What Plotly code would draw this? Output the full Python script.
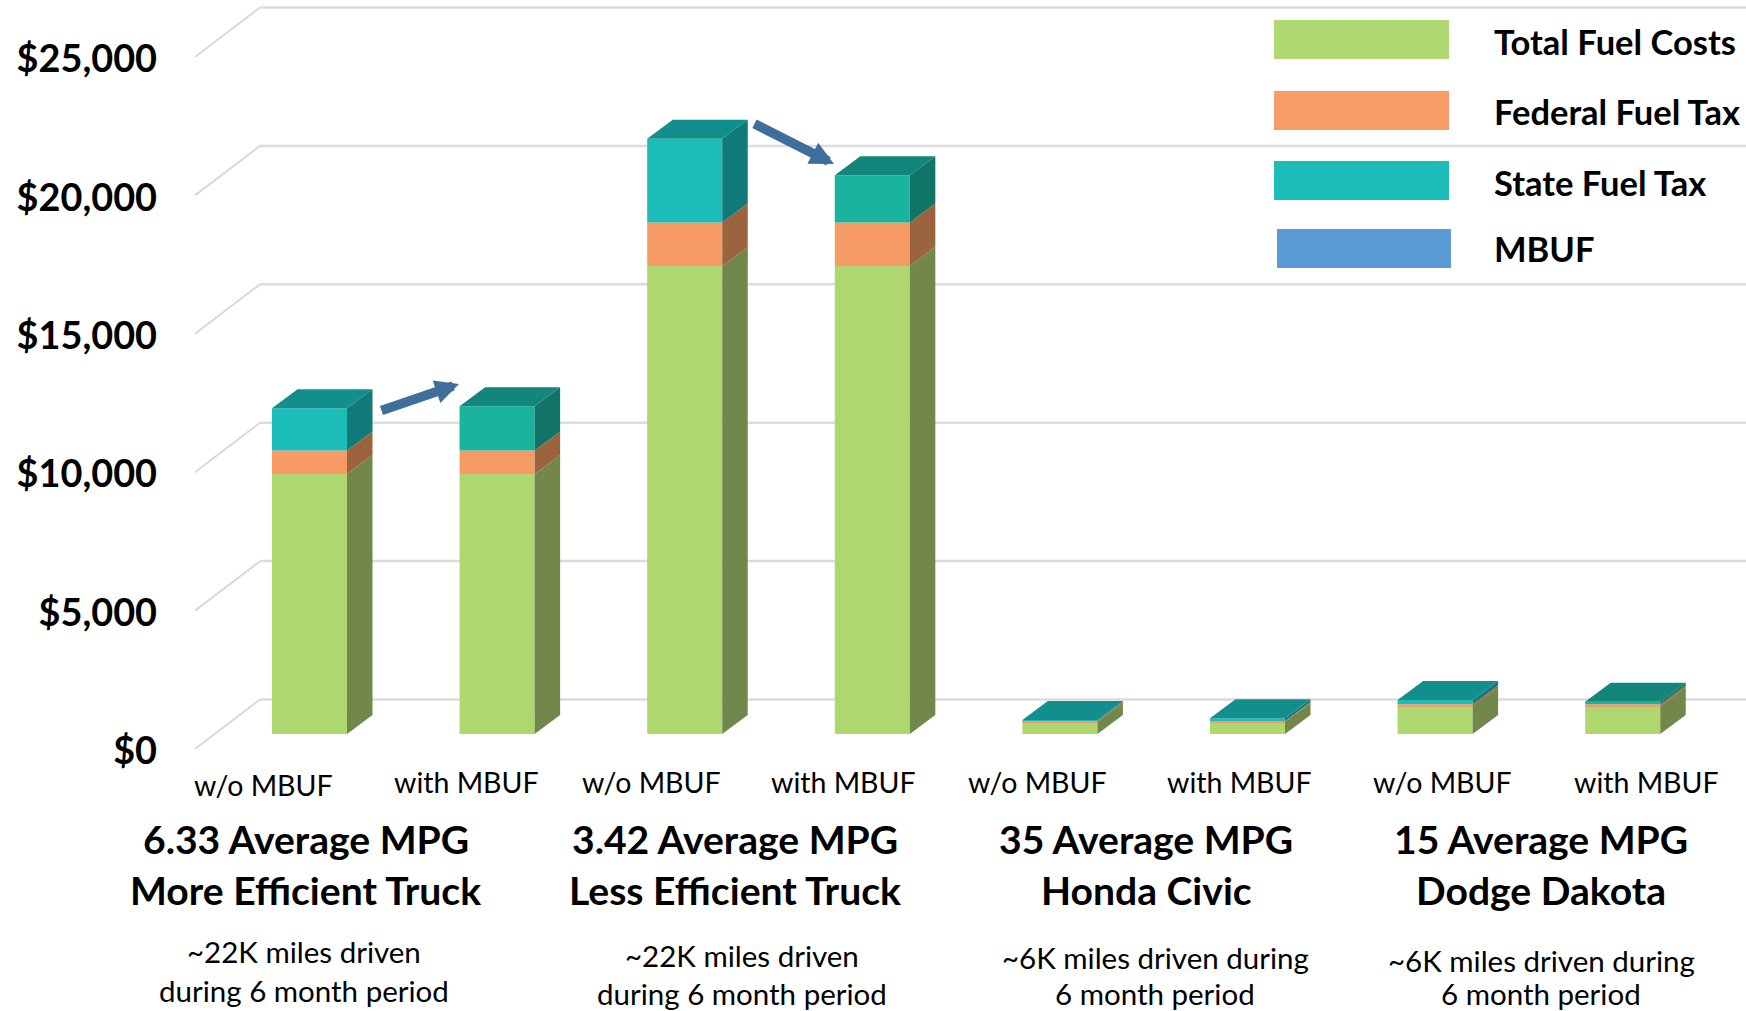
import plotly.graph_objects as go

# ---- data ----
bar_labels = ["w/o MBUF", "with MBUF"] * 4
fuel_costs = [9390, 9390, 16905, 16905, 433, 433, 1000, 1000]
federal_tax = [850, 850, 1570, 1570, 37, 37, 72, 72]
state_tax = [1530, 1600, 3030, 1715, 35, 97, 156, 94]
tick_values = [0, 5000, 10000, 15000, 20000, 25000]
tick_text = ["$0", "$5,000", "$10,000", "$15,000", "$20,000", "$25,000"]

legend_names = ["Total Fuel Costs", "Federal Fuel Tax", "State Fuel Tax", "MBUF"]
group_titles = [("6.33 Average MPG", "More Efficient Truck"), ("3.42 Average MPG", "Less Efficient Truck"),
                ("35 Average MPG", "Honda Civic"), ("15 Average MPG", "Dodge Dakota")]
group_notes = [("~22K miles driven", "during 6 month period"), ("~22K miles driven", "during 6 month period"),
               ("~6K miles driven during", "6 month period"), ("~6K miles driven during", "6 month period")]

# ---- styles / layout ----
W, H = 1746, 1011
X0, DX = 309.5, 187.6          # px centre of first bar, px per category
Y0, PX_PER_USD = 749.0, 138.4 / 5000
BAR_W = 0.4
FLOOR = 15 / PX_PER_USD        # bars stand 15px above the front floor edge
DEPTH_X, DEPTH_Y = 25.5 / DX, 19 / PX_PER_USD
WALL_X0, WALL_X1 = 195, 260
WALL_DY = 49.5 / PX_PER_USD

C_GREEN = ("#AFD770", "#72884A", "#72884A")
C_ORANGE = ("#F69B65", "#9C643E", "#9C643E")
C_TEAL = ("#1CBCB9", "#107A78", "#128F8D")
C_TEAL_M = ("#1AB39D", "#107467", "#12867A")
LEGEND_COLORS = ["#B0D870", "#F79C66", "#1CBCB9", "#5B9BD5"]
FONT = "Lato"


def xd(px):
    return (px - X0) / DX


def yd(py):
    return (Y0 - py) / PX_PER_USD


x_range = [xd(0), xd(W)]
y_range = [yd(H), yd(0)]
xs = list(range(len(fuel_costs)))

fig = go.Figure()

# wall gridlines, drawn below the bars
shapes = []
for v in tick_values:
    shapes.append(dict(type="line", xref="x", yref="y", layer="below", x0=xd(WALL_X0), x1=xd(WALL_X1),
                       y0=v, y1=v + WALL_DY, line=dict(color="#D9D9D9", width=2)))
    shapes.append(dict(type="line", xref="x", yref="y", layer="below", x0=xd(WALL_X1), x1=xd(W),
                       y0=v + WALL_DY, y1=v + WALL_DY, line=dict(color="#DCDCDC", width=2.5)))

# front faces
bottoms = [FLOOR] * len(xs)
segments = [
    ("Total Fuel Costs", fuel_costs, [C_GREEN] * 8),
    ("Federal Fuel Tax", federal_tax, [C_ORANGE] * 8),
    ("State Fuel Tax", state_tax, [C_TEAL, C_TEAL_M] * 2 + [C_TEAL, C_TEAL] + [C_TEAL, C_TEAL_M]),
]
for name, vals, cols in segments:
    fig.add_trace(go.Bar(x=xs, y=vals, base=bottoms, width=BAR_W, name=name, showlegend=False,
                         marker=dict(color=[c[0] for c in cols], line=dict(width=0))))
    # side faces
    for x, v, b, c in zip(xs, vals, bottoms, cols):
        xr = x + BAR_W / 2
        fig.add_trace(go.Scatter(x=[xr, xr + DEPTH_X, xr + DEPTH_X, xr, xr],
                                 y=[b, b + DEPTH_Y, b + v + DEPTH_Y, b + v, b],
                                 mode="lines", fill="toself", fillcolor=c[1], line=dict(width=0),
                                 showlegend=False, hoverinfo="skip"))
    bottoms = [b + v for b, v in zip(bottoms, vals)]

# top faces
for x, t, c in zip(xs, bottoms, segments[-1][2]):
    xl, xr = x - BAR_W / 2, x + BAR_W / 2
    fig.add_trace(go.Scatter(x=[xl, xr, xr + DEPTH_X, xl + DEPTH_X, xl],
                             y=[t, t, t + DEPTH_Y, t + DEPTH_Y, t],
                             mode="lines", fill="toself", fillcolor=c[2], line=dict(width=0),
                             showlegend=False, hoverinfo="skip"))

# legend swatches
swatch_boxes = [(1274, 1449, 20, 59), (1274, 1449, 91, 130), (1274, 1449, 161, 200), (1277, 1451, 229, 268)]
for (a, b, t, u), col in zip(swatch_boxes, LEGEND_COLORS):
    shapes.append(dict(type="rect", xref="paper", yref="paper", x0=a / W, x1=b / W, y0=1 - t / H, y1=1 - u / H,
                       fillcolor=col, line=dict(width=0), layer="above"))

annotations = []


def text(s, px, py, size, bold=False, anchor="center"):
    annotations.append(dict(text=f"<b>{s}</b>" if bold else s, xref="paper", yref="paper",
                            x=px / W, y=1 - py / H, xanchor=anchor, yanchor="middle", showarrow=False,
                            font=dict(family=FONT, size=size, color="#000000")))


legend_y = [42, 111, 182, 249]
for n, py in zip(legend_names, legend_y):
    text(n, 1492, py, 34.5, bold=True, anchor="left")

label_pos = [(263, 785), (466, 782), (651, 782), (843, 782), (1037, 782), (1239, 782), (1442, 782), (1646, 782)]
for s, (px, py) in zip(bar_labels, label_pos):
    text(s, px, py, 28.5)

title_pos = [(305.5, 838, 889), (734.5, 838, 889), (1146, 838, 889), (1541, 838, 889.5)]
for (a, b), (px, p1, p2) in zip(group_titles, title_pos):
    text(a, px, p1, 39.1, bold=True)
    text(b, px, p2, 39.1, bold=True)

note_pos = [(304, 951, 990), (741.5, 955, 993), (1155, 957.5, 993), (1541, 960, 993)]
for (a, b), (px, p1, p2) in zip(group_notes, note_pos):
    text(a, px, p1, 29.5)
    text(b, px, p2, 29.5)

# arrows
arrow_ends = [((380, 411), (459, 384)), ((753, 123), (834, 164))]
for (tx, ty), (hx, hy) in arrow_ends:
    annotations.append(dict(x=xd(hx), y=yd(hy), ax=xd(tx), ay=yd(ty), xref="x", yref="y", axref="x", ayref="y",
                            text="", showarrow=True, arrowhead=2, arrowsize=0.5, arrowwidth=9.5,
                            arrowcolor="#3E6F9C", standoff=0, startstandoff=0))

fig.update_layout(
    width=W, height=H, autosize=False, margin=dict(l=0, r=0, t=0, b=0),
    paper_bgcolor="white", plot_bgcolor="white", barmode="overlay", showlegend=False,
    shapes=shapes, annotations=annotations,
    xaxis=dict(range=x_range, visible=False, fixedrange=True, domain=[0, 1]),
    yaxis=dict(range=y_range, anchor="free", position=157 / W, tickmode="array",
               tickvals=tick_values, ticktext=[f"<b>{t}</b>" for t in tick_text], showgrid=False,
               zeroline=False, showline=False, ticks="", automargin=False, fixedrange=True,
               ticklabelshift=2,
               tickfont=dict(family=FONT, size=37.8, color="#000000")),
)
fig.write_html("out.html", config=dict(displayModeBar=False),
               post_script="document.body.style.margin='0';document.body.style.overflow='hidden';")
